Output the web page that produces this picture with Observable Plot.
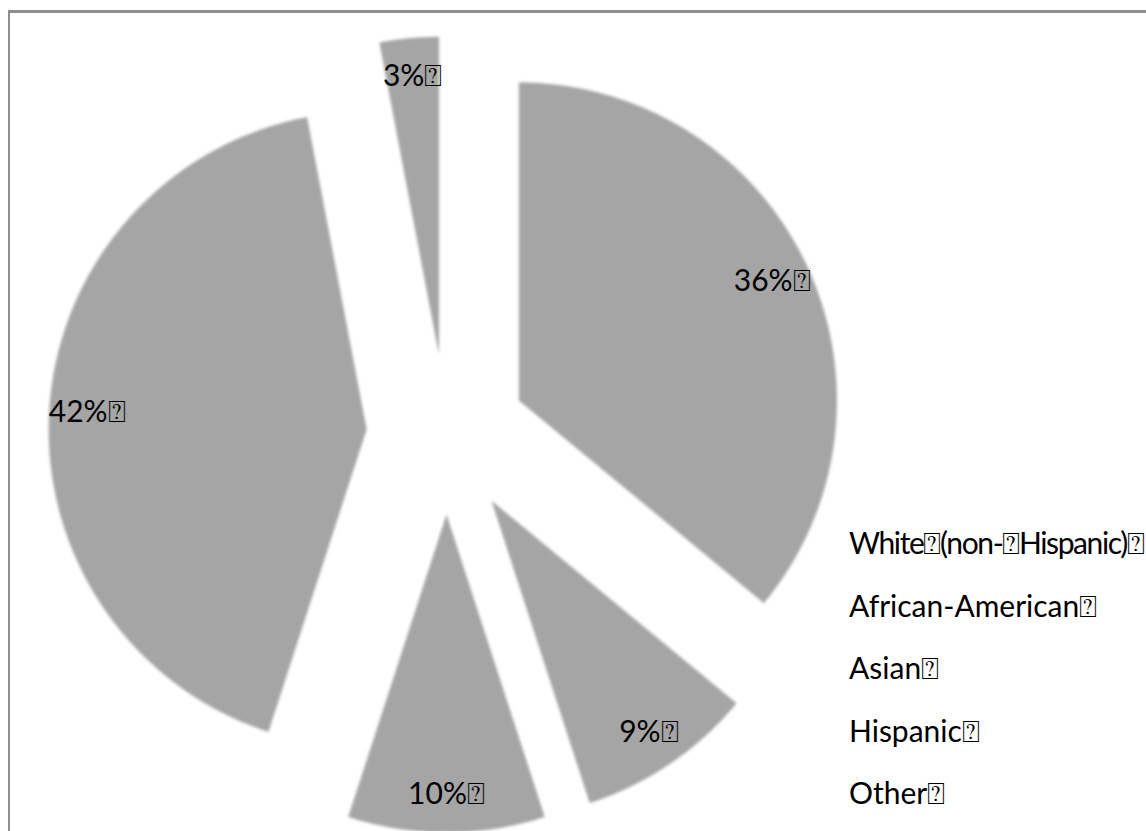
<!DOCTYPE html>
<html>
<head>
<meta charset="utf-8">
<script src="https://cdn.jsdelivr.net/npm/d3@7"></script>
<script src="https://cdn.jsdelivr.net/npm/@observablehq/plot@0.6"></script>
<style>
  html, body { margin: 0; padding: 0; background: #fff; overflow: hidden; }
  #wrap { position: relative; width: 1146px; height: 831px; overflow: hidden; }
  #frame { position: absolute; left: 8px; top: 10px; width: 1200px; height: 900px;
           border-top: 3px solid #8e8e8e; border-left: 2px solid #8e8e8e; }
  #chart { position: absolute; left: 0; top: 0; }
  #chart svg g[aria-label="line"] { filter: blur(1.6px); }
  #legend { position: absolute; left: 849px; top: 511px; font-family: Lato, sans-serif;
            font-size: 30px; line-height: 62.5px; white-space: nowrap; color: #000; }
  #legend .tight { letter-spacing: -1.4px; }
</style>
</head>
<body>
<div id="wrap">
  <div id="frame"></div>
  <div id="chart"></div>
  <div id="legend"></div>
</div>
<script>
// ---- data ----
const categories = ["White\u2370(non-\u2370Hispanic)\u2370", "African-American\u2370", "Asian\u2370", "Hispanic\u2370", "Other\u2370"];
const values = [36, 9, 10, 42, 3];
const valueLabels = ["36%\u2370", "9%\u2370", "10%\u2370", "42%\u2370", "3%\u2370"];

// ---- layout ----
const W = 1146, H = 831;
const cx = 446, cy = 434, R = 318;      // pie centre and radius in pixels
const explode = 80 / R;                 // explosion distance (unit radius)
const labelR = 360 / R;                 // label distance from centre

const arcs = d3.pie().sort(null).startAngle(0).endAngle(2 * Math.PI)(values);

const slicePts = [];
const labelPts = [];
arcs.forEach((a, i) => {
  const m = (a.startAngle + a.endAngle) / 2;
  const ox = explode * Math.sin(m), oy = explode * Math.cos(m);
  slicePts.push({cat: categories[i], x: ox, y: oy});
  const n = Math.max(2, Math.ceil((a.endAngle - a.startAngle) / (Math.PI / 360)));
  for (let k = 0; k <= n; k++) {
    const t = a.startAngle + (a.endAngle - a.startAngle) * k / n;
    slicePts.push({cat: categories[i], x: ox + Math.sin(t), y: oy + Math.cos(t)});
  }
  labelPts.push({text: valueLabels[i], x: labelR * Math.sin(m), y: labelR * Math.cos(m)});
});

const chart = Plot.plot({
  width: W, height: H,
  margin: 0,
  style: {background: "transparent", fontFamily: "Lato, sans-serif"},
  x: {domain: [-cx / R, (W - cx) / R], range: [0, W], axis: null},
  y: {domain: [cy / R, -(H - cy) / R], range: [0, H], axis: null},
  marks: [
    Plot.line(slicePts, {x: "x", y: "y", z: "cat", fill: "#a5a5a5", stroke: "none", curve: "linear-closed"}),
    Plot.text(labelPts, {x: "x", y: "y", text: "text", fontSize: 30, fill: "#000", textAnchor: "middle", fontFamily: "Lato, sans-serif"})
  ]
});
document.getElementById("chart").appendChild(chart);

const legend = document.getElementById("legend");
categories.forEach((c, i) => {
  const d = document.createElement("div");
  if (i === 0) d.className = "tight";
  d.textContent = c;
  legend.appendChild(d);
});
</script>
</body>
</html>
